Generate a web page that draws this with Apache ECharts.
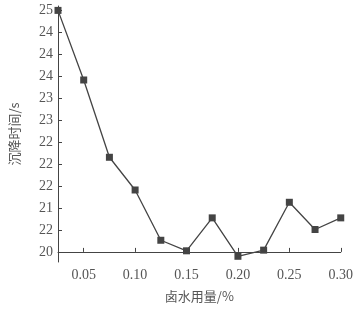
<!DOCTYPE html>
<html><head><meta charset="utf-8">
<script src="https://cdn.jsdelivr.net/npm/echarts@6/dist/echarts.min.js"></script>
<style>html,body{margin:0;padding:0;background:#fff}#c{width:356px;height:309px}</style>
</head><body><div id="c"></div>
<script>
// x: brine dosage (%), y: position on the (garbled) tick scale, tick index 0 = bottom label
const xValues = [0.025, 0.05, 0.075, 0.10, 0.125, 0.15, 0.175, 0.20, 0.225, 0.25, 0.275, 0.30];
const yValues = [11.0, 7.83, 4.31, 2.82, 0.53, 0.05, 1.55, -0.20, 0.08, 2.26, 1.02, 1.55];
const xTicks = [0.05, 0.10, 0.15, 0.20, 0.25, 0.30];
const yTickLabels = ['20', '22', '21', '22', '22', '22', '23', '23', '24', '24', '24', '25'];
const yTicks = yTickLabels.map((_, i) => i);

const chart = echarts.init(document.getElementById('c'));
const serif = 'Liberation Serif';
const cjk = 'Noto Sans CJK SC';
chart.setOption({
  animation: false,
  grid: {left: 55, right: 13, top: 6, bottom: 47},
  xAxis: {
    type: 'value', min: 0.025, max: 0.30,
    name: '卤水用量/%', nameLocation: 'middle', nameGap: 28,
    nameTextStyle: {fontFamily: cjk, fontSize: 13, color: '#555'},
    axisLine: {lineStyle: {color: '#444', width: 1}},
    axisTick: {inside: true, length: 4, customValues: xTicks, lineStyle: {color: '#444'}},
    axisLabel: {customValues: xTicks, formatter: v => v.toFixed(2), fontFamily: serif, fontSize: 14, color: '#555', margin: 6},
    splitLine: {show: false}
  },
  yAxis: {
    type: 'value', min: -0.46, max: 11.2,
    name: '沉降时间/s', nameLocation: 'middle', nameGap: 37, nameRotate: 90,
    nameTextStyle: {fontFamily: cjk, fontSize: 13, color: '#555'},
    axisLine: {show: true, lineStyle: {color: '#444', width: 1}},
    axisTick: {show: true, inside: true, length: 4, customValues: yTicks, lineStyle: {color: '#444'}},
    axisLabel: {customValues: yTicks, formatter: v => yTickLabels[Math.round(v)], fontFamily: serif, fontSize: 14, color: '#555', margin: 5},
    splitLine: {show: false}
  },
  series: [{
    type: 'line',
    data: xValues.map((x, i) => [x, yValues[i]]),
    symbol: 'rect', symbolSize: 7,
    itemStyle: {color: '#444'},
    lineStyle: {color: '#444', width: 1.3}
  }]
});
</script></body></html>
